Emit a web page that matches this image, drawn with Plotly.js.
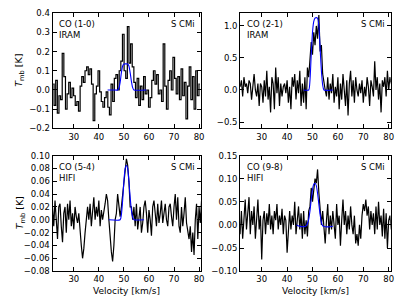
<!DOCTYPE html>
<html>
<head>
<meta charset="utf-8">
<script src="https://cdn.plot.ly/plotly-3.0.1.min.js"></script>
<style>html,body{margin:0;padding:0;background:#fff}#chart{width:407px;height:305px}</style>
</head>
<body>
<div id="chart"></div>
<script>
// ---- Data ----
// Velocity grids: first channel and channel width [km/s]
var co10_v0 = 21.8, co10_dv = 0.65;
var co21_v0 = 21.5, co21_dv = 0.5;
var co54_v0 = 21.5, co54_dv = 0.5;
var co98_v0 = 21.5, co98_dv = 0.5;

var co10_T = [0.03,-0.08,0.05,-0.12,-0.03,-0.05,0.19,0.07,-0.1,-0.02,
  0.04,-0.04,0.01,-0.03,-0.08,-0.06,-0.11,0.02,0.07,0.04,
  0.1,0.12,0.08,0.11,0.03,-0.16,-0.02,0.02,0.1,-0.01,
  -0.06,-0.09,-0.04,-0.01,-0.09,-0.13,0.03,-0.06,0.06,0.08,
  0.0,0.1,0.15,0.29,0.1,0.06,0.33,0.14,0.24,0.12,
  0.04,-0.04,0.06,-0.08,0.02,-0.05,0.07,-0.02,0.0,-0.09,
  -0.04,0.05,0.1,0.03,0.08,-0.02,0.0,-0.06,0.24,0.02,
  -0.1,0.05,0.1,0.0,0.17,0.06,-0.02,0.07,-0.05,0.11,
  -0.03,0.04,-0.15,0.02,0.12,-0.05,0.07,-0.1,0.1,-0.03,0.03];

var co21_T = [0.05,0.15,-0.1,0.2,0.05,0.1,-0.05,0.15,0.1,-0.15,
  0.05,0.25,0.0,-0.1,0.1,-0.25,0.1,0.05,-0.2,0.15,
  -0.1,0.3,-0.15,0.05,-0.35,0.2,0.1,-0.3,0.35,-0.05,
  0.2,-0.25,0.1,-0.1,0.05,0.1,-0.05,0.15,-0.2,0.05,
  -0.3,0.2,0.05,0.25,-0.15,0.15,-0.05,0.3,-0.25,0.1,
  -0.2,0.2,-0.3,0.35,0.2,0.5,0.75,0.55,0.9,0.7,
  1.0,0.8,1.17,0.6,0.7,0.25,0.1,0.0,-0.1,0.2,
  -0.15,0.1,-0.05,0.25,-0.2,0.05,-0.1,0.2,-0.3,0.1,
  -0.15,0.25,0.0,-0.25,0.15,-0.4,0.1,0.3,-0.1,0.15,
  -0.2,0.2,0.0,-0.1,0.1,-0.05,0.15,-0.2,0.05,-0.1,
  0.2,0.05,-0.25,0.15,0.05,-0.1,0.45,0.0,0.2,-0.15,
  0.1,-0.35,0.15,0.05,0.2,-0.1,0.3,0.0,0.2,0.1];

var co54_T = [0.02,-0.01,0.03,0.0,-0.03,0.02,0.025,-0.01,-0.035,0.01,
  0.02,-0.02,0.025,0.0,0.03,-0.01,0.01,-0.015,0.02,0.005,
  -0.005,0.01,-0.02,-0.04,-0.06,-0.045,-0.02,0.0,0.02,0.0,
  0.025,-0.01,0.02,0.035,0.0,0.02,0.005,0.03,-0.01,0.015,
  0.0,0.01,0.025,0.04,0.03,0.0,-0.03,-0.05,-0.065,-0.04,
  0.0,0.01,0.04,0.025,0.005,0.02,0.04,0.065,0.08,0.095,
  0.085,0.06,0.02,0.02,0.0,0.02,-0.01,0.025,-0.015,0.01,
  0.02,-0.02,-0.005,0.02,0.03,0.01,-0.02,0.015,0.0,-0.025,
  0.02,0.03,0.005,-0.01,0.025,-0.005,0.01,0.03,-0.005,0.01,
  0.025,0.0,-0.01,0.02,0.025,0.005,-0.01,0.02,0.04,0.0,
  0.035,-0.01,-0.02,0.02,-0.01,0.01,0.035,-0.005,-0.02,-0.03,
  -0.01,-0.05,-0.02,-0.055,0.0,0.025,-0.03,0.02,-0.005,0.03];

var co98_T = [-0.02,0.03,-0.03,0.01,0.055,-0.01,0.02,0.06,-0.02,0.03,
  0.0,0.04,-0.03,0.02,0.055,-0.01,0.02,-0.075,0.01,0.03,
  -0.02,0.025,0.0,0.045,-0.01,0.02,-0.02,0.03,0.01,0.045,
  -0.01,0.02,0.0,0.035,-0.02,0.02,0.01,-0.06,0.0,0.03,
  -0.01,0.02,0.0,0.05,-0.02,0.01,0.04,-0.01,0.025,-0.03,
  0.03,-0.02,0.01,-0.025,0.03,0.04,0.08,0.05,0.075,0.1,
  0.09,0.12,0.07,0.04,0.0,0.03,-0.01,-0.04,0.01,0.045,
  -0.02,0.02,-0.01,0.03,0.0,-0.03,0.045,0.0,0.02,-0.045,
  0.01,0.055,0.0,0.03,-0.02,0.02,-0.01,0.04,0.0,-0.02,
  0.02,-0.04,-0.02,-0.045,0.0,-0.03,0.02,0.045,0.03,0.055,
  0.02,0.04,-0.01,0.03,0.0,0.025,-0.02,0.04,-0.01,0.05,
  0.0,0.02,-0.025,0.035,-0.03,0.025,-0.05,0.01,0.02,-0.01];

// Model fits (blue)
var fit10_v = [43.5,46,47.5,48,48.5,49,49.5,50,51.5,52,52.5,53,53.5,54,59];
var fit10_T = [0,0,0,0.01,0.04,0.09,0.125,0.135,0.135,0.125,0.09,0.045,0.012,0,0];
var fit21_v = [46.5,48.5,49,49.5,50,50.5,51,51.5,52,52.5,53,53.5,54,54.5,58];
var fit21_T = [0,0,0.15,0.55,0.9,1.07,1.12,1.13,1.12,1.0,0.65,0.3,0.08,0,0];
var fit54_v = [44,48.5,49,49.5,50,50.5,51,51.5,52,52.5,53,53.5,54,58];
var fit54_T = [0,0,0.008,0.03,0.06,0.08,0.085,0.08,0.06,0.035,0.015,0.004,0,0];
var fit98_v = [43.7,45,46.5,47.5,48,48.5,49,49.5,50,50.5,51,51.5,52,52.5,53,53.5,54,55,57,58];
var fit98_T = [0,-0.003,-0.004,-0.002,0.003,0.012,0.03,0.055,0.077,0.088,0.09,0.085,0.068,0.045,0.022,0.006,-0.002,-0.004,-0.004,-0.003];

var lineLabels = ["CO (1-0)<br>IRAM","CO (2-1)<br>IRAM","CO (5-4)<br>HIFI","CO (9-8)<br>HIFI"];
var sourceName = "S CMi";
var xTickVals = [30,40,50,60,70,80];

function grid(v0, dv, n){ var a=[]; for(var i=0;i<n;i++) a.push(+(v0+i*dv).toFixed(3)); return a; }

var FONT = "DejaVu Sans, sans-serif";
var data = [
  {x:grid(co10_v0,co10_dv,co10_T.length), y:co10_T, xaxis:'x', yaxis:'y', mode:'lines', line:{color:'black',width:1.2,shape:'hvh'}},
  {x:fit10_v, y:fit10_T, xaxis:'x', yaxis:'y', mode:'lines', line:{color:'#0000ff',width:1.1,shape:'spline',smoothing:0.6}},
  {x:grid(co21_v0,co21_dv,co21_T.length), y:co21_T, xaxis:'x2', yaxis:'y2', mode:'lines', line:{color:'black',width:1.2}},
  {x:fit21_v, y:fit21_T, xaxis:'x2', yaxis:'y2', mode:'lines', line:{color:'#0000ff',width:1.1,shape:'spline',smoothing:0.6}},
  {x:grid(co54_v0,co54_dv,co54_T.length), y:co54_T, xaxis:'x3', yaxis:'y3', mode:'lines', line:{color:'black',width:1.2}},
  {x:fit54_v, y:fit54_T, xaxis:'x3', yaxis:'y3', mode:'lines', line:{color:'#0000ff',width:1.1,shape:'spline',smoothing:0.6}},
  {x:grid(co98_v0,co98_dv,co98_T.length), y:co98_T, xaxis:'x4', yaxis:'y4', mode:'lines', line:{color:'black',width:1.2}},
  {x:fit98_v, y:fit98_T, xaxis:'x4', yaxis:'y4', mode:'lines', line:{color:'#0000ff',width:1.1,shape:'spline',smoothing:0.6}}
];

function xax(dom, anchor){
  return {domain:dom, anchor:anchor, range:[21.5,80.8], tickvals:xTickVals, ticks:'inside', ticklen:4,
    tickcolor:'black', showline:true, mirror:'ticks', linecolor:'black', linewidth:1, showgrid:false, zeroline:false,
    tickfont:{family:FONT,size:8.5,color:'black'}};
}
function yax(dom, anchor, rng, dtick, fmt){
  return {domain:dom, anchor:anchor, range:rng, dtick:dtick, tick0:0, tickformat:fmt, ticks:'inside', ticklen:4,
    tickcolor:'black', showline:true, mirror:'ticks', linecolor:'black', linewidth:1, showgrid:false, zeroline:false,
    tickfont:{family:FONT,size:8.5,color:'black'}};
}

var xL=[0.129,0.494], xR=[0.590,0.960], yT=[0.579,0.957], yB=[0.111,0.490];

var ann = [];
var axr = [['x','y'],['x2','y2'],['x3','y3'],['x4','y4']];
for (var k=0;k<4;k++){
  ann.push({xref:axr[k][0]+' domain', yref:axr[k][1]+' domain', x:0.03, y:0.965, xanchor:'left', yanchor:'top', align:'left',
    text:lineLabels[k], showarrow:false, font:{family:FONT,size:8.5,color:'black'}});
  ann.push({xref:axr[k][0]+' domain', yref:axr[k][1]+' domain', x:0.975, y:0.965, xanchor:'right', yanchor:'top',
    text:sourceName, showarrow:false, font:{family:FONT,size:8.5,color:'black'}});
}
// axis titles
ann.push({xref:'paper', yref:'paper', x:20/407, y:(yT[0]+yT[1])/2, textangle:-90, xanchor:'center', yanchor:'middle',
  text:'<i>T</i><sub>mb</sub> [K]', showarrow:false, font:{family:FONT,size:9.5,color:'black'}});
ann.push({xref:'paper', yref:'paper', x:20/407, y:(yB[0]+yB[1])/2, textangle:-90, xanchor:'center', yanchor:'middle',
  text:'<i>T</i><sub>mb</sub> [K]', showarrow:false, font:{family:FONT,size:9.5,color:'black'}});
ann.push({xref:'paper', yref:'paper', x:(xL[0]+xL[1])/2, y:1-291/305, xanchor:'center', yanchor:'middle',
  text:'Velocity [km/s]', showarrow:false, font:{family:FONT,size:9,color:'black'}});
ann.push({xref:'paper', yref:'paper', x:(xR[0]+xR[1])/2, y:1-291/305, xanchor:'center', yanchor:'middle',
  text:'Velocity [km/s]', showarrow:false, font:{family:FONT,size:9,color:'black'}});

var layout = {
  width:407, height:305, margin:{l:0,r:0,t:0,b:0}, showlegend:false,
  paper_bgcolor:'white', plot_bgcolor:'white', font:{family:FONT,size:8.5,color:'black'},
  xaxis:xax(xL,'y'), yaxis:yax(yT,'x',[-0.2,0.4],0.1,'.1f'),
  xaxis2:xax(xR,'y2'), yaxis2:yax(yT,'x2',[-0.6,1.2],0.5,'.1f'),
  xaxis3:xax(xL,'y3'), yaxis3:yax(yB,'x3',[-0.08,0.10],0.02,'.2f'),
  xaxis4:xax(xR,'y4'), yaxis4:yax(yB,'x4',[-0.10,0.15],0.05,'.2f'),
  annotations:ann
};
Plotly.newPlot('chart', data, layout, {staticPlot:true, displayModeBar:false});
</script>
</body>
</html>
